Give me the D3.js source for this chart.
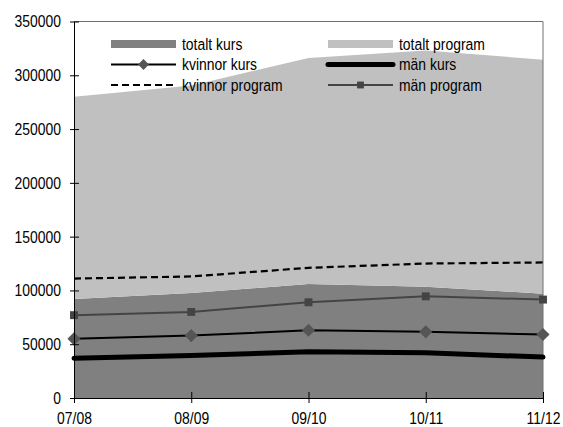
<!DOCTYPE html>
<html>
<head>
<meta charset="utf-8">
<script src="https://cdn.jsdelivr.net/npm/d3@7"></script>
<style>
  body { margin: 0; background: #fff; }
  text { font-family: "Liberation Sans Narrow", "Liberation Sans", sans-serif; font-size: 17px; fill: #000; }
</style>
</head>
<body>
<script>
// categories and values
var years = ["07/08", "08/09", "09/10", "10/11", "11/12"];
var totaltKurs = [92000, 97500, 106000, 103500, 97000];
var totaltProgram = [188000, 193000, 210000, 219500, 217500];
var kvinnorKurs = [55000, 58000, 63000, 61500, 59000];
var manKurs = [37000, 39500, 43000, 42000, 38000];
var kvinnorProgram = [111000, 113000, 121000, 125000, 126000];
var manProgram = [77000, 80000, 89000, 94500, 91500];
var yTicks = [0, 50000, 100000, 150000, 200000, 250000, 300000, 350000];

// width and height
var w = 563, h = 427;
var pLeft = 74, pRight = 543, pTop = 21.5, pBottom = 398;
var squeeze = 0.82; // narrow the text like the condensed face of the original

var svg = d3.select("body").append("svg")
    .attr("width", w)
    .attr("height", h);

var x = d3.scalePoint().domain(years).range([pLeft, pRight]);
var y = d3.scaleLinear().domain([0, 350000]).range([pBottom, pTop]);

// stacked areas: totalt kurs at bottom, totalt program on top
var rows = years.map((yr, i) => ({ year: yr, kurs: totaltKurs[i], program: totaltProgram[i] }));
var stack = d3.stack().keys(["kurs", "program"])(rows);
var areaFill = { kurs: "#808080", program: "#c0c0c0" };

var area = d3.area()
    .x(d => x(d.data.year))
    .y0(d => y(d[0]))
    .y1(d => y(d[1]));

svg.selectAll("path.area")
    .data(stack)
    .enter()
    .append("path")
    .attr("class", "area")
    .attr("fill", d => areaFill[d.key])
    .attr("d", area);

// frame (top and right)
svg.append("path")
    .attr("d", "M" + pLeft + "," + pTop + "H" + pRight + "V" + pBottom)
    .attr("fill", "none")
    .attr("stroke", "#707070")
    .attr("stroke-width", 1);

// lines
var line = d3.line()
    .x((d, i) => x(years[i]))
    .y(d => y(d));

var series = [
    { name: "kvinnor program", values: kvinnorProgram, stroke: "#000", width: 2.2, dash: "7,4" },
    { name: "män kurs", values: manKurs, stroke: "#000", width: 5, dash: null },
    { name: "kvinnor kurs", values: kvinnorKurs, stroke: "#000", width: 2, dash: null, marker: "diamond" },
    { name: "män program", values: manProgram, stroke: "#444", width: 2, dash: null, marker: "square" }
];

series.forEach(s => {
    svg.append("path")
        .attr("fill", "none")
        .attr("stroke", s.stroke)
        .attr("stroke-width", s.width)
        .attr("stroke-dasharray", s.dash)
        .attr("stroke-linejoin", "round")
        .attr("stroke-linecap", s.width > 3 ? "round" : "butt")
        .attr("d", line(s.values));
    if (s.marker) {
        var sym = s.marker == "diamond" ? d3.symbol().type(d3.symbolDiamond2).size(110)
                                        : d3.symbol().type(d3.symbolSquare2).size(80);
        svg.selectAll(null)
            .data(s.values)
            .enter()
            .append("path")
            .attr("transform", (d, i) => "translate(" + x(years[i]) + "," + y(d) + ")")
            .attr("fill", s.marker == "diamond" ? "#555" : "#444")
            .attr("d", sym);
    }
});

// axes
var yAxis = svg.append("g")
    .attr("transform", "translate(" + pLeft + ",0)")
    .call(d3.axisLeft(y).tickValues(yTicks).tickFormat(d3.format("d")).tickSize(4).tickPadding(9).tickSizeOuter(0));
yAxis.selectAll(".tick line").attr("x1", 5);
yAxis.selectAll(".tick text")
    .attr("x", -13 / squeeze)
    .attr("transform", "scale(" + squeeze + ",1)");

var xAxis = svg.append("g")
    .attr("transform", "translate(0," + pBottom + ")")
    .call(d3.axisBottom(x).tickSize(5).tickPadding(9).tickSizeOuter(0));
xAxis.selectAll(".tick line").attr("y1", -6);
xAxis.selectAll(".tick text").attr("transform", "scale(" + squeeze + ",1)");

svg.selectAll(".domain").attr("stroke", "#000");
svg.selectAll(".tick line").attr("stroke", "#000");
svg.selectAll("g").attr("font-size", null).attr("font-family", null);
xAxis.select(".domain").attr("d", "M" + pLeft + ",0.5H" + pRight);

// legend
var legend = [
    { name: "totalt kurs", kind: "rect", fill: "#808080", col: 0, row: 0 },
    { name: "totalt program", kind: "rect", fill: "#c0c0c0", col: 1, row: 0 },
    { name: "kvinnor kurs", kind: "line", stroke: "#000", width: 2, marker: "diamond", col: 0, row: 1 },
    { name: "män kurs", kind: "line", stroke: "#000", width: 5, col: 1, row: 1 },
    { name: "kvinnor program", kind: "line", stroke: "#000", width: 2.2, dash: "7,4", col: 0, row: 2 },
    { name: "män program", kind: "line", stroke: "#444", width: 2, marker: "square", col: 1, row: 2 }
];
var colX = [111, 328], rowY = [44, 64.5, 85], swW = 65;

legend.forEach(l => {
    var lx = colX[l.col], ly = rowY[l.row];
    if (l.kind == "rect") {
        svg.append("rect").attr("x", lx).attr("y", ly - 4).attr("width", swW).attr("height", 8).attr("fill", l.fill);
    } else {
        svg.append("line").attr("x1", lx).attr("x2", lx + swW).attr("y1", ly).attr("y2", ly)
            .attr("stroke", l.stroke).attr("stroke-width", l.width)
            .attr("stroke-dasharray", l.dash || null)
            .attr("stroke-linecap", l.width > 3 ? "round" : "butt");
        if (l.marker) {
            var sym = l.marker == "diamond" ? d3.symbol().type(d3.symbolDiamond2).size(75)
                                            : d3.symbol().type(d3.symbolSquare2).size(60);
            svg.append("path").attr("transform", "translate(" + (lx + swW / 2) + "," + ly + ")")
                .attr("fill", l.marker == "diamond" ? "#555" : "#444").attr("d", sym);
        }
    }
    svg.append("text")
        .attr("x", (lx + swW + 6) / squeeze)
        .attr("y", ly)
        .attr("dy", "0.35em")
        .attr("transform", "scale(" + squeeze + ",1)")
        .text(l.name);
});
</script>
</body>
</html>
